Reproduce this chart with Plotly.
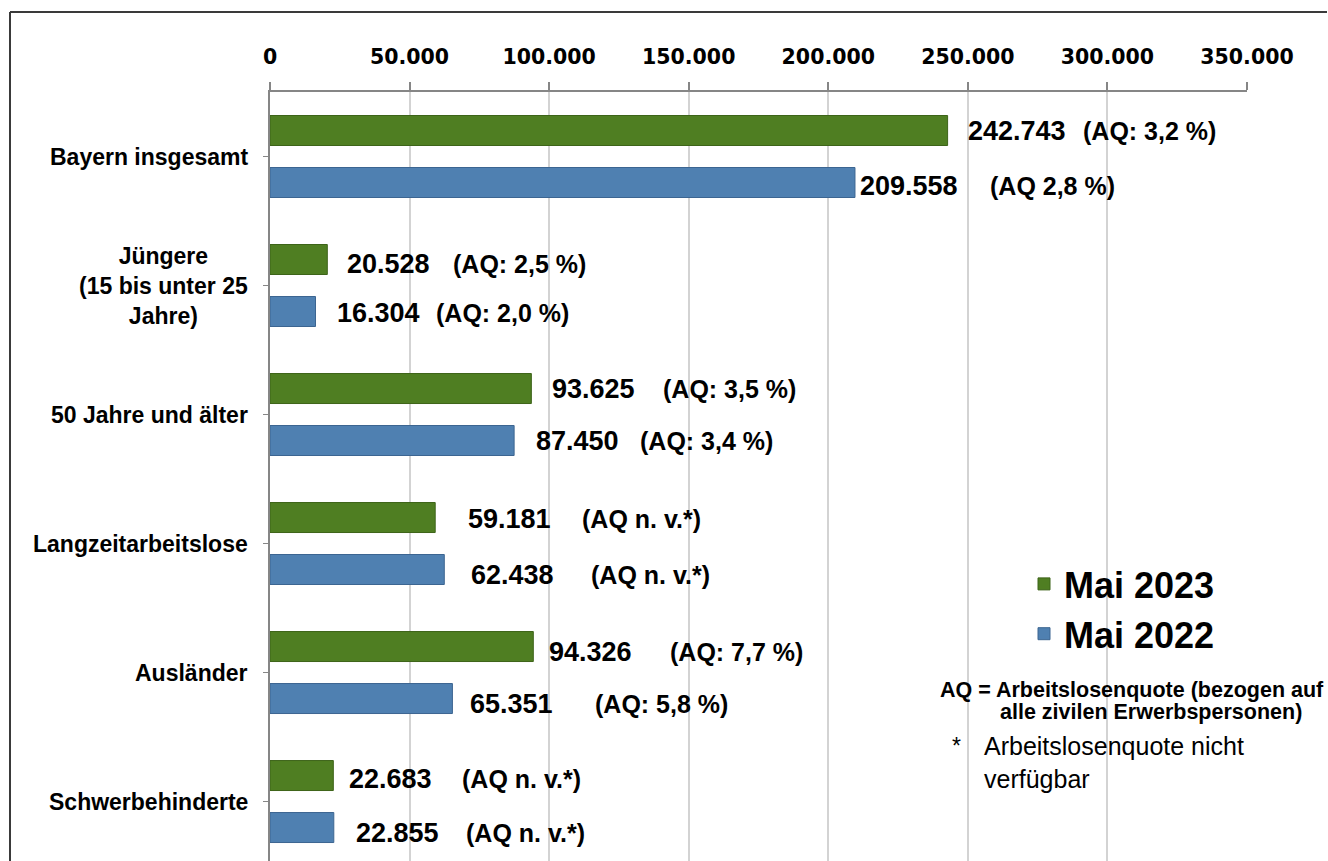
import plotly.graph_objects as go

# ---------------- data ----------------
cat_keys = ["Bayern insgesamt", "Jüngere", "50 Jahre und älter",
            "Langzeitarbeitslose", "Ausländer", "Schwerbehinderte"]
cat_labels = ["Bayern insgesamt", "Jüngere<br>(15 bis unter 25<br>Jahre)", "50 Jahre und älter",
              "Langzeitarbeitslose", "Ausländer", "Schwerbehinderte"]
may_2023 = [242743, 20528, 93625, 59181, 94326, 22683]
may_2022 = [209558, 16304, 87450, 62438, 65351, 22855]
aq_2023 = ["(AQ: 3,2 %)", "(AQ: 2,5 %)", "(AQ: 3,5 %)", "(AQ n. v.*)", "(AQ: 7,7 %)", "(AQ n. v.*)"]
aq_2022 = ["(AQ 2,8 %)", "(AQ: 2,0 %)", "(AQ: 3,4 %)", "(AQ n. v.*)", "(AQ: 5,8 %)", "(AQ n. v.*)"]
series_names = ["Mai 2023", "Mai 2022"]
tick_vals = [0, 50000, 100000, 150000, 200000, 250000, 300000, 350000]
tick_text = ["0", "50.000", "100.000", "150.000", "200.000", "250.000", "300.000", "350.000"]

# ---------------- styling / layout helpers ----------------
W, H = 1328, 861
ML, MR, MT, MB = 270, 81, 92, 0
PW, PH = W - ML - MR, H - MT - MB

def px_x(px):
    return (px - ML) / PW

def px_y(py):
    return (H - MB - py) / PH

GREEN = "#4f7e22"
BLUE = "#4f80b1"
GRAY = "#868686"
ARIAL = "Liberation Sans, Arial, sans-serif"

# per-label pixel offsets (text placement relative to bar end)
val_shift_23 = [18, 18, 19, 31, 14, 14]
aq_shift_23 = [133, 124, 130, 145, 135, 127]
val_shift_22 = [3, 19, 20, 25, 16, 20]
aq_shift_22 = [133, 118, 124, 145, 141, 130]
dy_23 = [0, 4, 0, 1, 5, 3]
dy_22 = [3, 1, 0, 5, 5, 5]
BAR_OFF = 26

def fmt(v):
    return f"{v:,}".replace(",", ".")

fig = go.Figure()
fig.add_trace(go.Bar(y=cat_keys, x=may_2023, orientation="h", name=series_names[0],
                     marker=dict(color=GREEN, line=dict(color="#3d6419", width=1))))
fig.add_trace(go.Bar(y=cat_keys, x=may_2022, orientation="h", name=series_names[1],
                     marker=dict(color=BLUE, line=dict(color="#3c6591", width=1))))

annotations = []
for i, key in enumerate(cat_keys):
    # category label
    annotations.append(dict(x=0, xref="paper", y=key, yref="y", xanchor="right", yanchor="middle",
                            xshift=-20, text=cat_labels[i], showarrow=False, align="center",
                            font=dict(family=ARIAL, size=23, color="black", weight="bold")))
    for vals, aqs, vsh, ash, dys, sign in ((may_2023, aq_2023, val_shift_23, aq_shift_23, dy_23, 1),
                                           (may_2022, aq_2022, val_shift_22, aq_shift_22, dy_22, -1)):
        ys = sign * BAR_OFF - dys[i]
        annotations.append(dict(x=vals[i], y=key, xref="x", yref="y", xanchor="left", yanchor="middle",
                                xshift=vsh[i], yshift=ys, text=fmt(vals[i]), showarrow=False,
                                font=dict(family=ARIAL, size=27, color="black", weight="bold")))
        annotations.append(dict(x=vals[i], y=key, xref="x", yref="y", xanchor="left", yanchor="middle",
                                xshift=ash[i], yshift=ys, text=aqs[i], showarrow=False,
                                font=dict(family=ARIAL, size=25, color="black", weight="bold")))

# footnotes
annotations += [
    dict(x=px_x(938), y=px_y(690), xref="paper", yref="paper", xanchor="left", yanchor="middle",
         text="AQ = Arbeitslosenquote (bezogen auf", showarrow=False,
         font=dict(family=ARIAL, size=21.5, color="black", weight="bold")),
    dict(x=px_x(998), y=px_y(712), xref="paper", yref="paper", xanchor="left", yanchor="middle",
         text="alle zivilen Erwerbspersonen)", showarrow=False,
         font=dict(family=ARIAL, size=21.5, color="black", weight="bold")),
    dict(x=px_x(950), y=px_y(746), xref="paper", yref="paper", xanchor="left", yanchor="middle",
         text="*", showarrow=False, font=dict(family=ARIAL, size=23, color="black")),
    dict(x=px_x(982), y=px_y(762), xref="paper", yref="paper", xanchor="left", yanchor="middle",
         text="Arbeitslosenquote nicht<br>verfügbar", showarrow=False, align="left",
         font=dict(family=ARIAL, size=25, color="black")),
]

shapes = [
    dict(type="line", xref="paper", yref="paper", x0=px_x(10), x1=px_x(1327), y0=px_y(12), y1=px_y(12),
         line=dict(color="#3a3a3a", width=2)),
    dict(type="line", xref="paper", yref="paper", x0=px_x(10), x1=px_x(10), y0=px_y(12), y1=px_y(870),
         line=dict(color="#3a3a3a", width=2)),
]

fig.update_layout(
    width=W, height=H,
    margin=dict(l=ML, r=MR, t=MT, b=MB, pad=0),
    paper_bgcolor="white", plot_bgcolor="white",
    barmode="group", bargap=0.194, bargroupgap=0.423,
    showlegend=True,
    legend=dict(x=px_x(1024), y=px_y(554), xanchor="left", yanchor="top",
                font=dict(family=ARIAL, size=36, color="black", weight="bold"),
                bgcolor="rgba(0,0,0,0)", tracegroupgap=0, itemwidth=30),
    xaxis=dict(side="top", range=[0, 350000], tickvals=tick_vals, ticktext=tick_text,
               showline=True, linecolor=GRAY, linewidth=1.5, ticks="outside", ticklen=8,
               tickcolor=GRAY, tickwidth=1.5, showgrid=True, gridcolor="#d3d3d3", gridwidth=1.5,
               zeroline=False, ticklabelstandoff=10,
               tickfont=dict(family="DejaVu Sans", size=20.5, color="black", weight="bold")),
    yaxis=dict(categoryorder="array", categoryarray=cat_keys, range=[5.461, -0.5],
               showticklabels=False, ticks="outside", ticklen=5, tickcolor=GRAY, tickwidth=1,
               showline=True, linecolor=GRAY, linewidth=1.5, showgrid=False, zeroline=False),
    annotations=annotations,
    shapes=shapes,
)

fig.write_html("out.html")
